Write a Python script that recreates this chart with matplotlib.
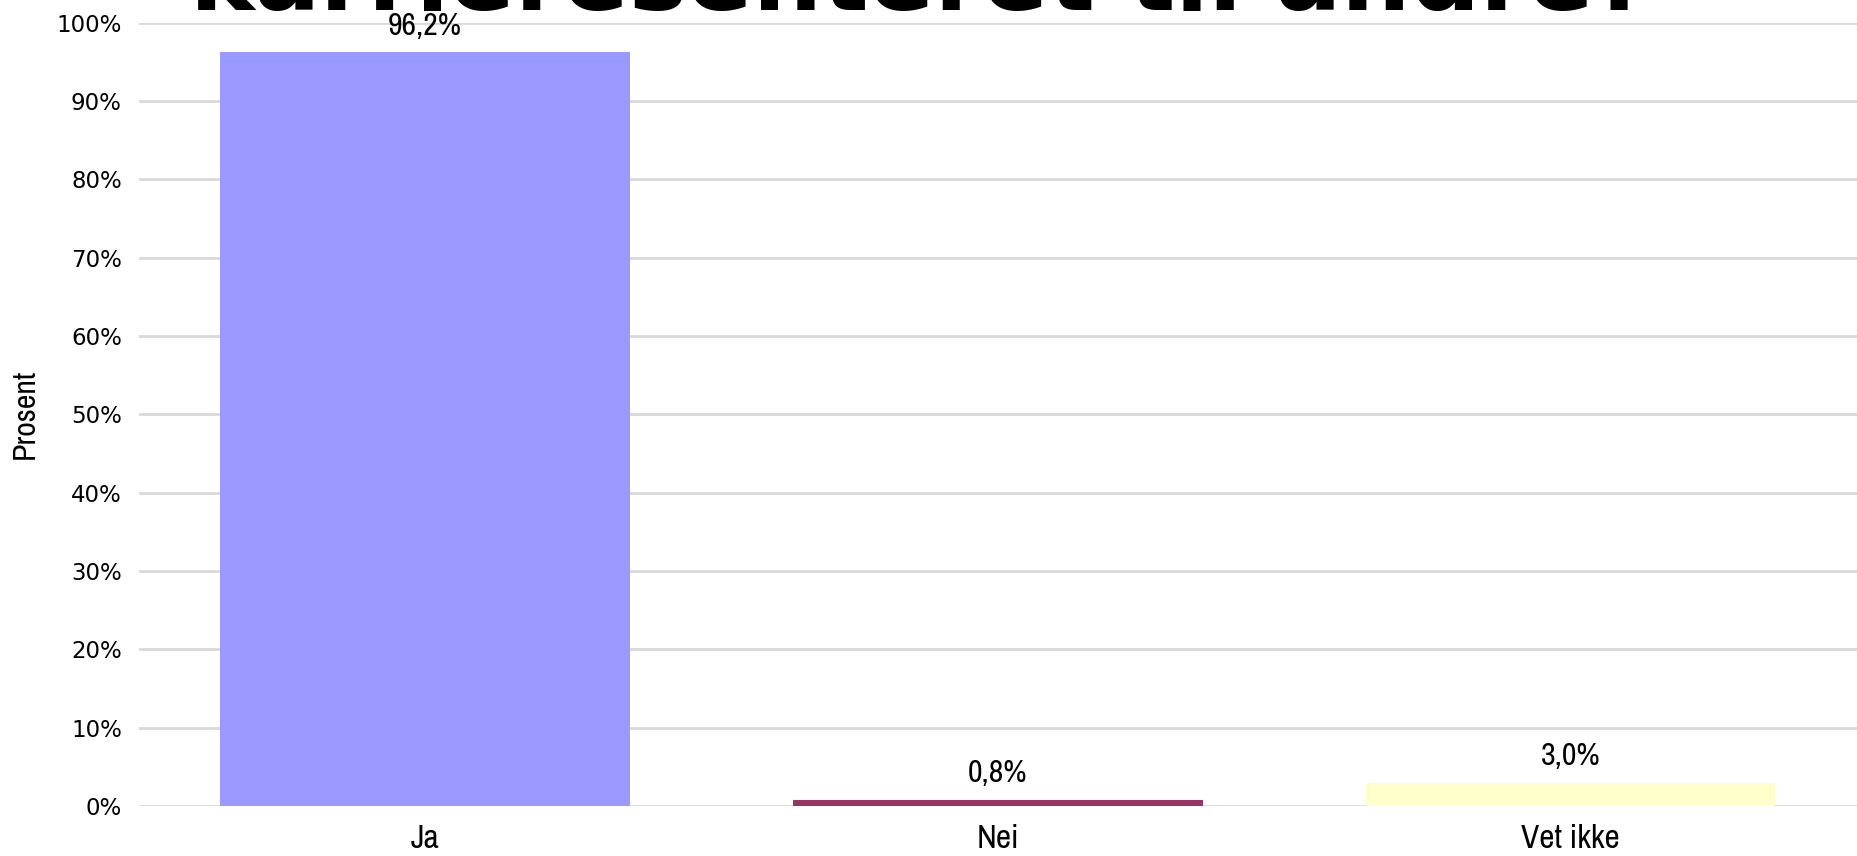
import matplotlib
matplotlib.use("Agg")
import matplotlib.pyplot as plt
from matplotlib.ticker import FuncFormatter

categories = ["Ja", "Nei", "Vet ikke"]
values = [96.2, 0.8, 3.0]
value_labels = ["96,2%", "0,8%", "3,0%"]
colors = ["#9999FF", "#993366", "#FFFFCC"]
yticks = [0, 10, 20, 30, 40, 50, 60, 70, 80, 90, 100]
title = "karrieresenteret til andre?"

narrow_family = ["Archivo Narrow", "DejaVu Sans"]

fig = plt.figure(figsize=(18.57, 8.56), dpi=100)
ax = fig.add_axes([0.0746, 0.0584, 0.9254, 0.9153])

x = list(range(len(categories)))
ax.bar(x, values, width=0.715, color=colors, zorder=3)
ax.set_xlim(-0.5, 2.5)
ax.set_ylim(0, 100)
ax.set_yticks(yticks)
ax.yaxis.set_major_formatter(FuncFormatter(lambda v, p: f"{int(v)}%"))
ax.grid(axis="y", color="#D9D9D9", linewidth=2, zorder=0)
for s in ax.spines.values():
    s.set_visible(False)
ax.tick_params(axis="y", length=0, pad=12, labelsize=16.5)
ax.tick_params(axis="x", length=0, pad=13)
ax.set_xticks(x)
ax.set_xticklabels(categories, family=narrow_family, fontsize=24)
ax.set_ylabel("Prosent", family=narrow_family, fontsize=23, labelpad=13)

for xi, v, lab in zip(x, values, value_labels):
    ax.annotate(lab, (xi, v), xytext=(0, 9), textcoords="offset points",
                ha="center", va="bottom", fontsize=23, family=narrow_family)

fig.text(0.4955, 1 - 10 / 856, title, ha="center", va="baseline",
         fontsize=70, fontweight="bold", color="black")

fig.savefig("out.png", dpi=100)
